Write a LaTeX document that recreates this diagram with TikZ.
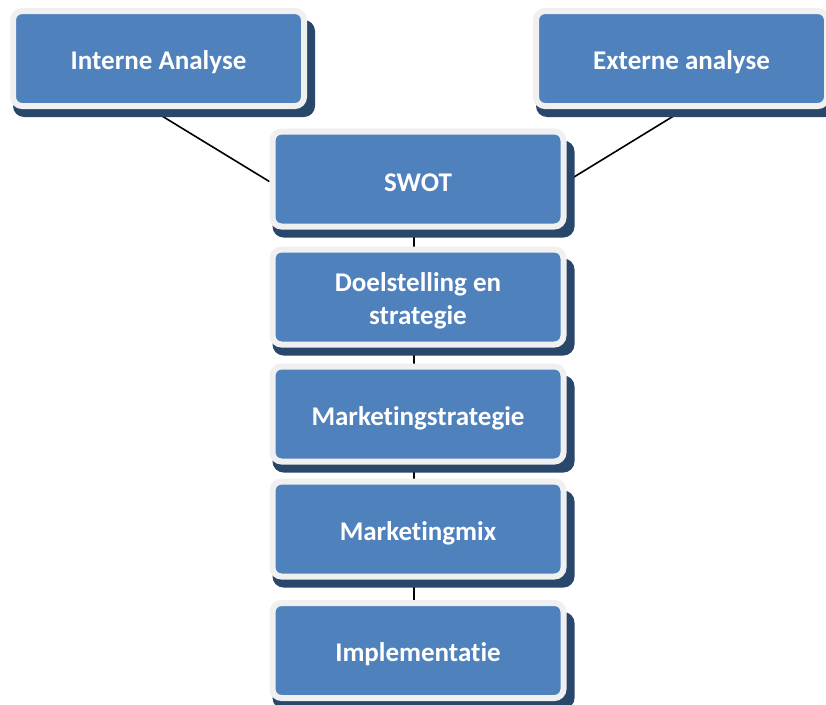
\documentclass[tikz,border=0pt]{standalone}
\usepackage{fontspec}
\setmainfont{Carlito}[Ligatures=NoCommon]
\usetikzlibrary{backgrounds}
\definecolor{boxblue}{HTML}{4F81BD}
\definecolor{boxrim}{HTML}{F0F0F0}
\definecolor{boxshade}{HTML}{29466B}
\tikzset{
  stagebox/.style={rectangle, rounded corners=9pt, fill=boxblue, draw=boxrim,
    line width=6pt, minimum width=291pt, minimum height=95pt, inner sep=0pt},
  stagetext/.style={inner sep=0pt, text=white, align=center,
    font=\fontsize{27}{33}\selectfont\bfseries},
  stageshade/.style={rectangle, rounded corners=11pt, fill=boxshade,
    minimum width=302pt, minimum height=97pt, inner sep=0pt},
  link/.style={draw=black, line width=1.6pt}
}
\newcommand{\stage}[4]{%
  \node[stageshade] (#1-shade) at (#2+5.5,#3+10) {};
  \node[stagebox] (#1) at (#2,#3) {};
  \node[stagetext] (#1-text) at (#2,#3+4) {#4};
}
\begin{document}
\begin{tikzpicture}[x=1pt,y=-1pt]
  \useasboundingbox (0,0) rectangle (826,704);
  \clip (0,0) rectangle (826,704);

  % analysis inputs
  \stage{intern}{158.5}{58.5}{Interne Analyse}
  \stage{extern}{681.5}{58.5}{Externe analyse}

  % planning chain
  \stage{swot}{418}{179}{SWOT}
  \stage{doel}{418}{297}{Doelstelling en\\strategie}
  \stage{mstrat}{418}{414}{Marketingstrategie}
  \stage{mmix}{418}{529}{Marketingmix}
  \stage{impl}{418}{650.5}{Implementatie}

  % connectors, kept behind the boxes
  \begin{scope}[on background layer]
    \fill[white] (0,0) rectangle (826,704);
    \draw[link] (intern.-99.8) -- (swot.181.5);
    \draw[link] (extern.-86) -- (swot.-1.8);
    \draw[link] ([xshift=-4pt]swot.south) -- ([xshift=-4pt]doel.north);
    \draw[link] ([xshift=-4pt]doel.south) -- ([xshift=-4pt]mstrat.north);
    \draw[link] ([xshift=-4pt]mstrat.south) -- ([xshift=-4pt]mmix.north);
    \draw[link] ([xshift=-4pt]mmix.south) -- ([xshift=-4pt]impl.north);
  \end{scope}
\end{tikzpicture}
\end{document}
